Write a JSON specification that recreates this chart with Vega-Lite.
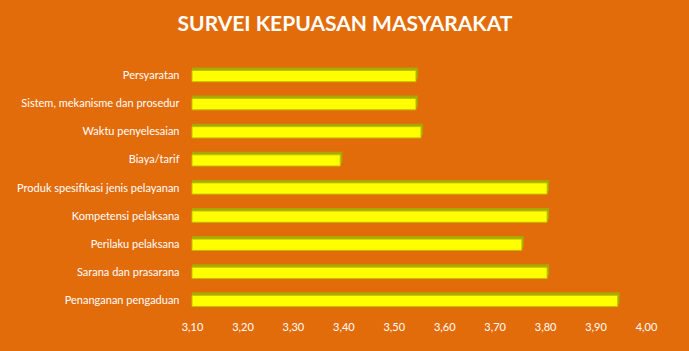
{
  "$schema": "https://vega.github.io/schema/vega-lite/v6.json",
  "autosize": "none",
  "width": 454,
  "height": 253,
  "padding": {"left": 192, "top": 62, "right": 43, "bottom": 36},
  "background": "#E36C0A",
  "title": {
    "text": "SURVEI KEPUASAN MASYARAKAT",
    "color": "#FFFFFF",
    "font": "Lato",
    "fontSize": 21,
    "fontWeight": "bold",
    "anchor": "middle",
    "dx": -74,
    "offset": 27
  },
  "data": {
    "values": [
      {"kategori": "Persyaratan", "nilai": 3.54},
      {"kategori": "Sistem, mekanisme dan prosedur", "nilai": 3.54},
      {"kategori": "Waktu penyelesaian", "nilai": 3.55},
      {"kategori": "Biaya/tarif", "nilai": 3.39},
      {"kategori": "Produk spesifikasi jenis pelayanan", "nilai": 3.80},
      {"kategori": "Kompetensi pelaksana", "nilai": 3.80},
      {"kategori": "Perilaku pelaksana", "nilai": 3.75},
      {"kategori": "Sarana dan prasarana", "nilai": 3.80},
      {"kategori": "Penanganan pengaduan", "nilai": 3.94}
    ]
  },
  "config": {
    "view": {"stroke": null},
    "axis": {"labelFont": "Lato", "labelFontSize": 11, "labelColor": "#FFFFFF", "domain": false, "ticks": false, "grid": false, "title": null}
  },
  "encoding": {
    "y": {"field": "kategori", "type": "nominal", "sort": null, "scale": {"paddingInner": 0.6, "paddingOuter": 0.3}, "axis": {"labelPadding": 13}},
    "x": {"field": "nilai", "type": "quantitative", "scale": {"domain": [3.1, 4.0], "zero": false, "nice": false},
      "axis": {"values": [3.1, 3.2, 3.3, 3.4, 3.5, 3.6, 3.7, 3.8, 3.9, 4.0], "labelExpr": "replace(format(datum.value, '.2f'), '.', ',')", "labelPadding": 6, "labelFlush": false}},
    "x2": {"datum": 3.1}
  },
  "layer": [
    {"mark": {"type": "bar", "color": "#A8A800", "xOffset": 4, "yOffset": -3}},
    {"mark": {"type": "bar", "color": "#FFFF00", "stroke": "#C0C000", "strokeWidth": 1, "xOffset": 2}}
  ]
}
